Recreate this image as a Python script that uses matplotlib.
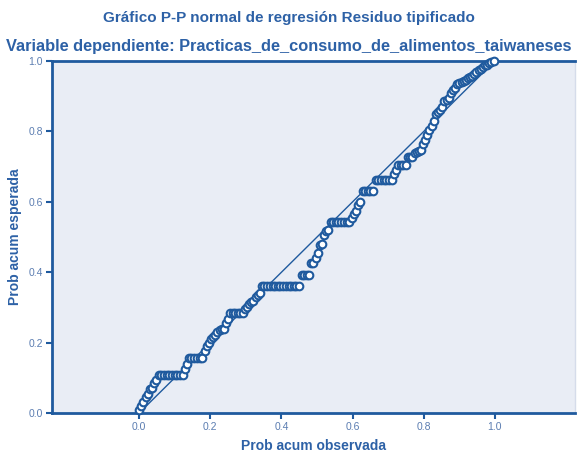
import matplotlib.pyplot as plt

# prob acumulada observada / esperada
prob_observada = [
    0.000, 0.006, 0.012, 0.018, 0.024, 0.030, 0.036, 0.042, 0.048,
    0.055, 0.062, 0.070, 0.077, 0.085, 0.092, 0.100, 0.107, 0.115, 0.122,
    0.128, 0.134,
    0.140, 0.147, 0.155, 0.162, 0.170, 0.177,
    0.184, 0.190, 0.196, 0.202, 0.208, 0.214, 0.220, 0.226, 0.232, 0.238, 0.244, 0.250,
    0.256, 0.263, 0.270, 0.277, 0.284, 0.291,
    0.297, 0.303, 0.309, 0.315, 0.321, 0.327, 0.333, 0.339,
    0.345, 0.352, 0.360, 0.367, 0.375, 0.382, 0.390, 0.397, 0.405, 0.412,
    0.420, 0.427, 0.435, 0.442, 0.450,
    0.457, 0.464, 0.471, 0.478,
    0.484, 0.490, 0.496, 0.502, 0.508, 0.514, 0.520, 0.526, 0.532,
    0.538, 0.545, 0.553, 0.560, 0.568, 0.575, 0.583, 0.590,
    0.597, 0.603, 0.609, 0.615, 0.621,
    0.628, 0.635, 0.643, 0.650, 0.658,
    0.665, 0.672, 0.680, 0.687, 0.695, 0.702, 0.710,
    0.716, 0.722,
    0.728, 0.735, 0.742, 0.750,
    0.756, 0.762, 0.768, 0.774, 0.780, 0.786, 0.792,
    0.798, 0.804, 0.810, 0.816, 0.822, 0.828,
    0.834, 0.840, 0.846, 0.852, 0.858, 0.864, 0.870,
    0.876, 0.882, 0.888, 0.894, 0.900, 0.906, 0.912, 0.918,
    0.924, 0.930, 0.936, 0.942, 0.948, 0.954, 0.960, 0.966,
    0.972, 0.978, 0.984, 0.990, 0.996,
]
prob_esperada = [
    0.008, 0.020, 0.032, 0.045, 0.055, 0.068, 0.072, 0.085, 0.095,
    0.107, 0.107, 0.107, 0.107, 0.107, 0.107, 0.107, 0.107, 0.107, 0.107,
    0.125, 0.140,
    0.155, 0.155, 0.155, 0.155, 0.155, 0.155,
    0.175, 0.190, 0.200, 0.210, 0.215, 0.222, 0.230, 0.235, 0.238, 0.240, 0.255, 0.268,
    0.284, 0.284, 0.284, 0.284, 0.284, 0.284,
    0.295, 0.300, 0.310, 0.315, 0.318, 0.330, 0.335, 0.342,
    0.360, 0.360, 0.360, 0.360, 0.360, 0.360, 0.360, 0.360, 0.360, 0.360,
    0.360, 0.360, 0.360, 0.360, 0.360,
    0.391, 0.391, 0.391, 0.391,
    0.425, 0.425, 0.440, 0.455, 0.476, 0.480, 0.505, 0.516, 0.520,
    0.544, 0.544, 0.544, 0.544, 0.544, 0.544, 0.544, 0.544,
    0.555, 0.565, 0.575, 0.590, 0.600,
    0.632, 0.632, 0.632, 0.632, 0.632,
    0.661, 0.661, 0.661, 0.661, 0.661, 0.661, 0.661,
    0.680, 0.690,
    0.705, 0.705, 0.705, 0.705,
    0.726, 0.726, 0.728, 0.740, 0.742, 0.745, 0.748,
    0.765, 0.775, 0.790, 0.805, 0.815, 0.830,
    0.850, 0.855, 0.862, 0.868, 0.885, 0.890, 0.895,
    0.910, 0.918, 0.922, 0.935, 0.938, 0.940, 0.942, 0.945,
    0.952, 0.955, 0.958, 0.962, 0.970, 0.975, 0.978, 0.982,
    0.988, 0.990, 0.993, 0.996, 0.999,
]
ticks = [0.0, 0.2, 0.4, 0.6, 0.8, 1.0]
tick_labels = ['0.0', '0.2', '0.4', '0.6', '0.8', '1.0']

azul = '#1f5a9e'
azul_txt = '#2d61a6'
azul_tick = '#5b7db1'

plt.rcParams['font.family'] = ['Liberation Sans', 'DejaVu Sans']

fig = plt.figure(figsize=(5.78, 4.54), dpi=100)
ax = fig.add_axes([52 / 578, 1 - 413 / 454, 523 / 578, 352 / 454])
ax.set_facecolor('#e9edf5')

# diagonal de referencia
ax.plot([0, 1], [0, 1], color=azul, lw=1.0, zorder=2)
ax.plot(prob_observada, prob_esperada, 'o', ms=5.5, mfc='white', mec=azul,
        mew=1.5, zorder=3, clip_on=False)

ax.set_xlim(-0.245, 1.225)
ax.set_ylim(0, 1)
ax.set_xticks(ticks)
ax.set_xticklabels(tick_labels)
ax.set_yticks(ticks)
ax.set_yticklabels(tick_labels)
ax.tick_params(colors=azul, labelcolor=azul_tick, labelsize=7.5, length=4,
               width=1.5, pad=2.5)

for lado in ['left', 'bottom', 'top']:
    ax.spines[lado].set_color(azul)
    ax.spines[lado].set_linewidth(2)
ax.spines['right'].set_color('#d5dcea')
ax.spines['right'].set_linewidth(1)

ax.set_xlabel('Prob acum observada', color=azul_txt, fontsize=10,
              fontweight='bold', labelpad=5)
ax.set_ylabel('Prob acum esperada', color=azul_txt, fontsize=10,
              fontweight='bold', labelpad=5)

fig.text(0.5, 1 - 18 / 454, 'Gráfico P-P normal de regresión Residuo tipificado',
         ha='center', va='center', color=azul_txt, fontsize=11, fontweight='bold')
fig.text(0.5, 1 - 47 / 454, 'Variable dependiente: Practicas_de_consumo_de_alimentos_taiwaneses',
         ha='center', va='center', color=azul_txt, fontsize=11.8, fontweight='bold')

fig.savefig('out.png', dpi=100)
